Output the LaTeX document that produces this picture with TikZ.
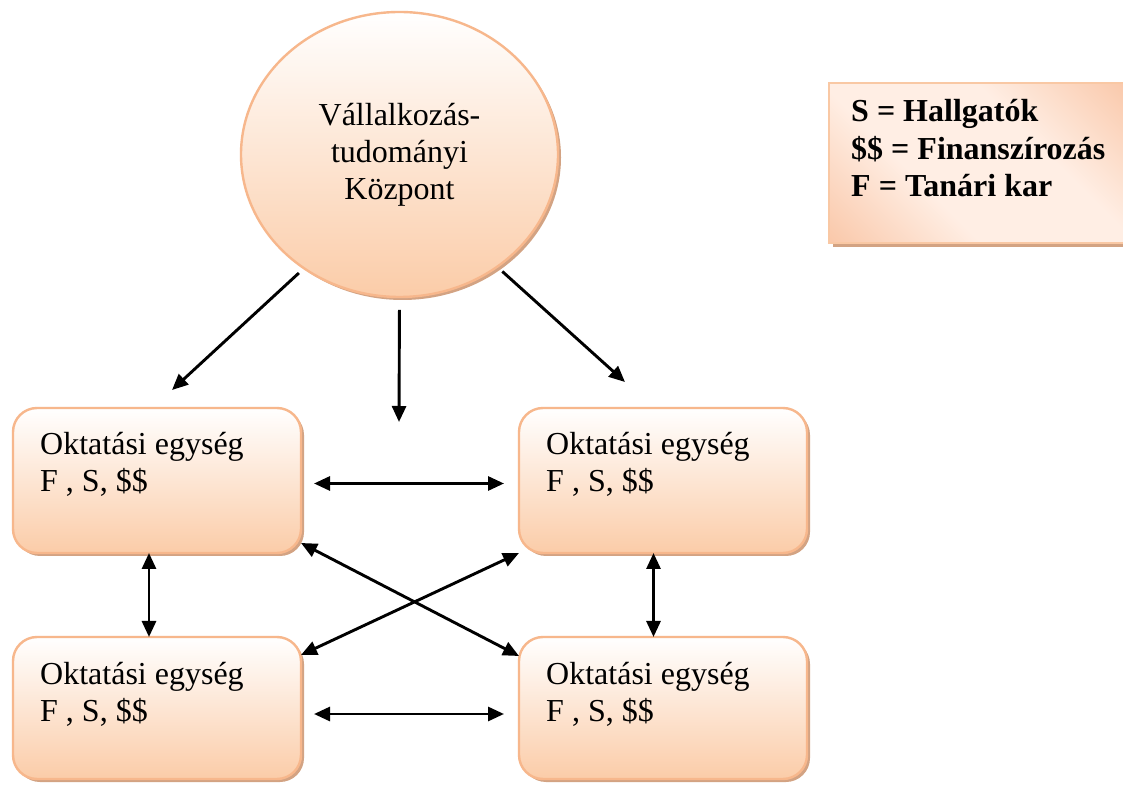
\documentclass[tikz,border=0pt]{standalone}
\usepackage{fontspec}
\setmainfont{Liberation Serif}
\usetikzlibrary{arrows.meta,shapes.geometric,shadows}
\definecolor{peach}{HTML}{FBCCA8}
\definecolor{edgeor}{HTML}{F7B78C}
\definecolor{shad}{HTML}{D3A383}
\definecolor{legor}{HTML}{F6B085}
\definecolor{leglight}{HTML}{FFEEE4}
\definecolor{legedge}{HTML}{F9C8A4}
\pgfdeclarehorizontalshading{legshade}{100bp}{color(0bp)=(legor); color(38bp)=(leglight); color(62bp)=(leglight); color(100bp)=(legor)}
\begin{document}
\begin{tikzpicture}[x=1pt,y=1pt,
  bigfont/.style={font=\fontsize{32}{37}\selectfont},
  unitbox/.style={draw=edgeor, line width=2.4pt, rounded corners=24pt,
    top color=white, bottom color=peach, minimum width=288pt,
    minimum height=145pt, inner sep=0pt, outer sep=0pt, anchor=north west,
    drop shadow={shadow xshift=3pt, shadow yshift=-3pt, fill=shad, opacity=1}},
  unittext/.style={bigfont, anchor=base west, inner sep=0pt, align=left},
  centre/.style={ellipse, draw=edgeor, line width=2.4pt, top color=white,
    bottom color=peach, minimum width=317pt, minimum height=285pt,
    inner sep=0pt, outer sep=0pt, align=center, bigfont,
    drop shadow={shadow xshift=3pt, shadow yshift=-3pt, fill=shad, opacity=1}},
  legbox/.style={draw=legedge, line width=2pt, shading=legshade,
    shading angle=45, minimum width=300pt, minimum height=160pt,
    inner sep=0pt, anchor=north west,
    drop shadow={shadow xshift=4pt, shadow yshift=-4pt, fill=shad, opacity=1}},
  legtext/.style={font=\fontsize{32}{37.5}\selectfont\bfseries, anchor=base west,
    inner sep=0pt, align=left},
  arr/.style={line width=2.9pt, -{Triangle[length=16pt,width=14pt]}},
  biarr/.style={line width=2.9pt, {Triangle[length=16pt,width=14pt]}-{Triangle[length=16pt,width=14pt]}}
]
\useasboundingbox[fill=white] (0,0) rectangle (1123,784);

% centre
\node[centre] (c) at (399.5,629.5) {Vállalkozás-\\tudományi\\Központ};

% legend
\node[legbox] (leg) at (828,702) {};
\node[legtext] (legt) at (851,587) {S = Hallgatók\\\$\$ = Finanszírozás\\F = Tanári kar};

% units
\node[unitbox] (tl) at (13,376) {};
\node[unitbox] (tr) at (519,376) {};
\node[unitbox, minimum height=142pt] (bl) at (13,147) {};
\node[unitbox, minimum height=142pt] (br) at (519,147) {};

\node[unittext] (tlt) at ([xshift=27pt,yshift=-84pt]tl.north west) {Oktatási egység\\F , S, \$\$};
\node[unittext] (trt) at ([xshift=27pt,yshift=-84pt]tr.north west) {Oktatási egység\\F , S, \$\$};
\node[unittext] (blt) at ([xshift=27pt,yshift=-84pt]bl.north west) {Oktatási egység\\F , S, \$\$};
\node[unittext] (brt) at ([xshift=27pt,yshift=-84pt]br.north west) {Oktatási egység\\F , S, \$\$};

% free ends of the arrows from the centre
\coordinate (e1) at (172,394);
\coordinate (e2) at (399,362);
\coordinate (e3) at (625,402);

\draw[arr, shorten <=7pt] (c.-130) -- (e1);
\draw[arr, shorten <=13pt] (c.south) -- (e2);
\draw[arr, shorten <=7pt] (c.-49) -- (e3);

% unit to unit
\draw[biarr, shorten <=13pt, shorten >=15pt] ([yshift=-3pt]tl.east) -- ([yshift=-3pt]tr.west);
\draw[biarr, shorten <=13pt, shorten >=15pt] ([yshift=-6pt]bl.east) -- ([yshift=-6pt]br.west);
\draw[biarr] ([xshift=-8pt]tl.south) -- ([xshift=-8pt]bl.north);
\draw[biarr] ([xshift=-9.5pt]tr.south) -- ([xshift=-9.5pt]br.north);
\draw[biarr] ([yshift=10pt]tl.south east) -- ([yshift=-19pt]br.north west);
\draw[biarr] (tr.south west) -- ([yshift=-18pt]bl.north east);
\end{tikzpicture}
\end{document}
